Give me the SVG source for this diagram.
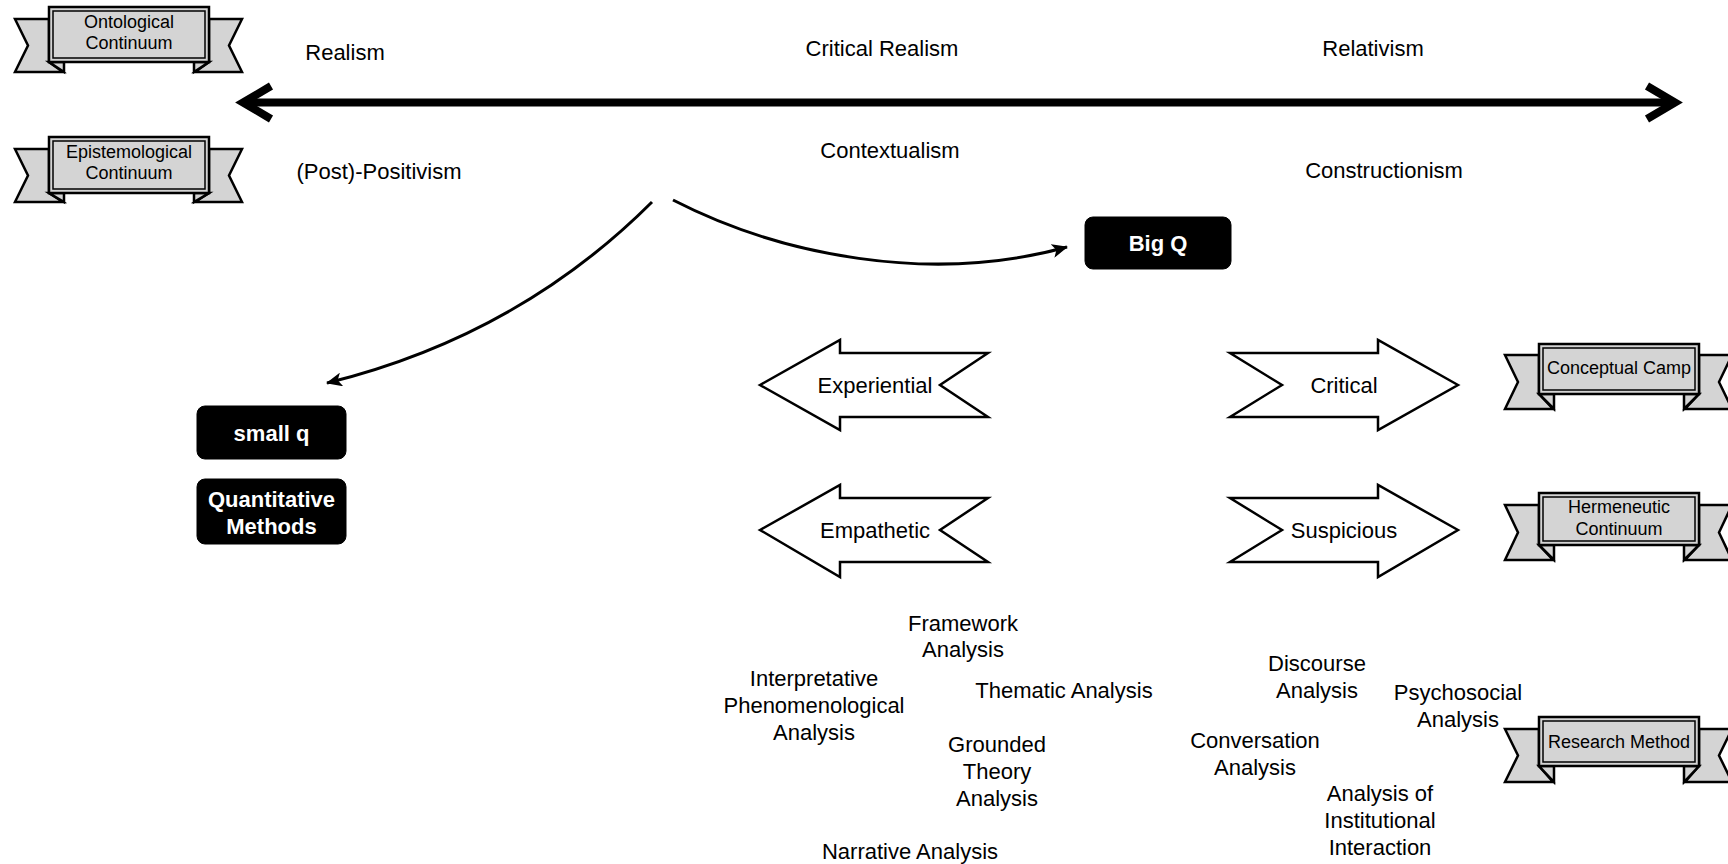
<svg xmlns="http://www.w3.org/2000/svg" width="1728" height="864" viewBox="0 0 1728 864">
  <style>
    .lbl { font-family: "Liberation Sans", Arial, sans-serif; font-size: 22px; fill: #000; text-anchor: middle; }
    .rib { font-family: "Liberation Sans", Arial, sans-serif; font-size: 18px; fill: #000; text-anchor: middle; }
    .box { fill: #000; stroke: #000; stroke-width: 1; }
    .boxt { font-family: "Liberation Sans", Arial, sans-serif; font-size: 22px; font-weight: bold; fill: #fff; text-anchor: middle; }
    .band { fill: #d4d4d4; stroke: #000; stroke-width: 2.5; }
    .bandin { fill: none; stroke: #000; stroke-width: 1.5; }
    .flap { fill: #d4d4d4; stroke: #000; stroke-width: 2.5; stroke-linejoin: miter; }
    .blk { fill: #fff; stroke: #000; stroke-width: 2.5; stroke-linejoin: miter; }
    .curve { fill: none; stroke: #000; stroke-width: 3; }
    .axis { fill: none; stroke: #000; stroke-width: 8; }
  </style>
  <defs>
    <marker id="head" markerUnits="userSpaceOnUse" viewBox="0 0 16 14" refX="15" refY="7" markerWidth="16" markerHeight="14" orient="auto">
      <path d="M0,0 L16,7 L0,14 L4,7 z" fill="#000"/>
    </marker>
  </defs>

  <rect width="1728" height="864" fill="#fff"/>

  <!-- ribbons -->
  <g id="ribbon-ontological">
    <polygon class="flap" points="15,19 49,19 49,62 63,72 15,72 28,45.5"/>
    <polygon class="flap" points="242,19 209,19 209,62 195,72 242,72 229,45.5"/>
    <polygon class="flap" points="49,62 64,62 64,72"/>
    <polygon class="flap" points="209,62 194,62 194,72"/>
    <rect class="band" x="49" y="7" width="160" height="55"/>
    <rect class="bandin" x="53" y="11" width="152" height="47"/>
    <text class="rib" x="129" y="28">Ontological</text>
    <text class="rib" x="129" y="49">Continuum</text>
  </g>
  <g id="ribbon-epistemological">
    <polygon class="flap" points="15,149 49,149 49,193 63,202 15,202 28,175.5"/>
    <polygon class="flap" points="242,149 209,149 209,193 195,202 242,202 229,175.5"/>
    <polygon class="flap" points="49,193 64,193 64,202"/>
    <polygon class="flap" points="209,193 194,193 194,202"/>
    <rect class="band" x="49" y="137" width="160" height="56"/>
    <rect class="bandin" x="53" y="141" width="152" height="48"/>
    <text class="rib" x="129" y="158">Epistemological</text>
    <text class="rib" x="129" y="179">Continuum</text>
  </g>
  <g id="ribbon-conceptual">
    <polygon class="flap" points="1505,355 1539,355 1539,394 1553,409 1505,409 1518,382"/>
    <polygon class="flap" points="1732,355 1699,355 1699,394 1685,409 1732,409 1719,382"/>
    <polygon class="flap" points="1539,394 1554,394 1554,409"/>
    <polygon class="flap" points="1699,394 1684,394 1684,409"/>
    <rect class="band" x="1539" y="344" width="160" height="50"/>
    <rect class="bandin" x="1543" y="348" width="152" height="42"/>
    <text class="rib" x="1619" y="374">Conceptual Camp</text>
  </g>
  <g id="ribbon-hermeneutic">
    <polygon class="flap" points="1505,505 1539,505 1539,545 1553,560 1505,560 1518,532.5"/>
    <polygon class="flap" points="1732,505 1699,505 1699,545 1685,560 1732,560 1719,532.5"/>
    <polygon class="flap" points="1539,545 1554,545 1554,560"/>
    <polygon class="flap" points="1699,545 1684,545 1684,560"/>
    <rect class="band" x="1539" y="493" width="160" height="52"/>
    <rect class="bandin" x="1543" y="497" width="152" height="44"/>
    <text class="rib" x="1619" y="513">Hermeneutic</text>
    <text class="rib" x="1619" y="535">Continuum</text>
  </g>
  <g id="ribbon-method">
    <polygon class="flap" points="1505,729 1539,729 1539,766 1553,782 1505,782 1518,755.5"/>
    <polygon class="flap" points="1732,729 1699,729 1699,766 1685,782 1732,782 1719,755.5"/>
    <polygon class="flap" points="1539,766 1554,766 1554,782"/>
    <polygon class="flap" points="1699,766 1684,766 1684,782"/>
    <rect class="band" x="1539" y="717" width="160" height="49"/>
    <rect class="bandin" x="1543" y="721" width="152" height="41"/>
    <text class="rib" x="1619" y="748">Research Method</text>
  </g>

  <!-- continuum labels -->
  <g id="labels-ontology">
    <text class="lbl" x="345" y="60">Realism</text>
    <text class="lbl" x="882" y="56">Critical Realism</text>
    <text class="lbl" x="1373" y="56">Relativism</text>
  </g>
  <g id="labels-epistemology">
    <text class="lbl" x="379" y="179">(Post)-Positivism</text>
    <text class="lbl" x="890" y="158">Contextualism</text>
    <text class="lbl" x="1384" y="178">Constructionism</text>
  </g>

  <!-- connectors -->
  <g id="connectors">
    <line class="axis" x1="246" y1="102.5" x2="1672" y2="102.5"/>
    <polyline class="axis" points="271,86 243,102.5 271,119"/>
    <polyline class="axis" points="1647,86 1675,102.5 1647,119"/>
    <path class="curve" d="M652,202 Q518,336 327,383" marker-end="url(#head)"/>
    <path class="curve" d="M673,200 C780,255 930,285 1067,247" marker-end="url(#head)"/>
  </g>

  <!-- research paradigm boxes -->
  <g id="node-bigq">
    <rect class="box" x="1085" y="217" width="146" height="52" rx="8"/>
    <text class="boxt" x="1158" y="251">Big Q</text>
  </g>
  <g id="node-smallq">
    <rect class="box" x="197" y="406" width="149" height="53" rx="8"/>
    <text class="boxt" x="271.5" y="440.5">small q</text>
  </g>
  <g id="node-quant">
    <rect class="box" x="197" y="479" width="149" height="65" rx="8"/>
    <text class="boxt" x="271.5" y="507">Quantitative</text>
    <text class="boxt" x="271.5" y="534">Methods</text>
  </g>

  <!-- block arrows -->
  <g id="node-experiential">
    <polygon class="blk" points="760,385 840,340 840,353 988,353 940,385 988,417 840,417 840,430"/>
    <text class="lbl" x="875" y="393">Experiential</text>
  </g>
  <g id="node-empathetic">
    <polygon class="blk" points="760,530 840,485 840,498 988,498 940,530 988,562 840,562 840,577"/>
    <text class="lbl" x="875" y="538">Empathetic</text>
  </g>
  <g id="node-critical">
    <polygon class="blk" points="1458,385 1378,340 1378,353 1230,353 1282,385 1230,417 1378,417 1378,430"/>
    <text class="lbl" x="1344" y="393">Critical</text>
  </g>
  <g id="node-suspicious">
    <polygon class="blk" points="1458,530 1378,485 1378,498 1230,498 1282,530 1230,562 1378,562 1378,577"/>
    <text class="lbl" x="1344" y="538">Suspicious</text>
  </g>

  <!-- methods -->
  <g id="method-framework">
    <text class="lbl" x="963" y="631">Framework<tspan x="963" dy="26">Analysis</tspan></text>
  </g>
  <g id="method-ipa">
    <text class="lbl" x="814" y="686">Interpretative<tspan x="814" dy="27">Phenomenological</tspan><tspan x="814" dy="27">Analysis</tspan></text>
  </g>
  <g id="method-thematic">
    <text class="lbl" x="1064" y="698">Thematic Analysis</text>
  </g>
  <g id="method-grounded">
    <text class="lbl" x="997" y="752">Grounded<tspan x="997" dy="27">Theory</tspan><tspan x="997" dy="27">Analysis</tspan></text>
  </g>
  <g id="method-narrative">
    <text class="lbl" x="910" y="859">Narrative Analysis</text>
  </g>
  <g id="method-discourse">
    <text class="lbl" x="1317" y="671">Discourse<tspan x="1317" dy="27">Analysis</tspan></text>
  </g>
  <g id="method-psychosocial">
    <text class="lbl" x="1458" y="700">Psychosocial<tspan x="1458" dy="27">Analysis</tspan></text>
  </g>
  <g id="method-conversation">
    <text class="lbl" x="1255" y="748">Conversation<tspan x="1255" dy="27">Analysis</tspan></text>
  </g>
  <g id="method-institutional">
    <text class="lbl" x="1380" y="801">Analysis of<tspan x="1380" dy="27">Institutional</tspan><tspan x="1380" dy="27">Interaction</tspan></text>
  </g>
</svg>
